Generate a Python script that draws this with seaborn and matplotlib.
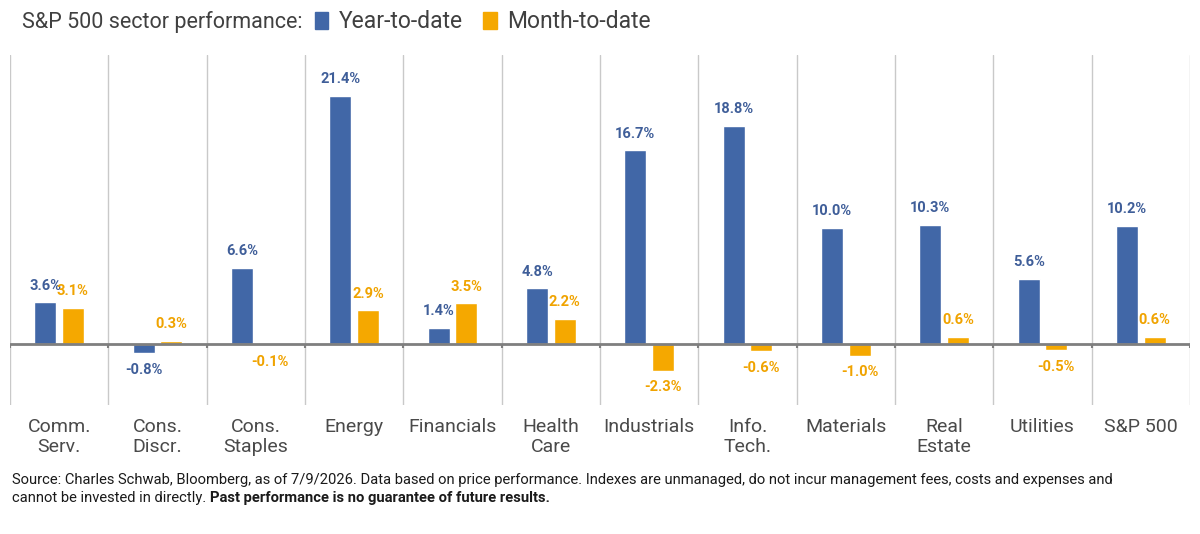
import matplotlib
matplotlib.use('Agg')
import matplotlib.pyplot as plt
import matplotlib.patches as mpatches
import seaborn as sns
import pandas as pd
import numpy as np

# Chart data
sectors = ['Comm.\nServ.', 'Cons.\nDiscr.', 'Cons.\nStaples', 'Energy', 'Financials',
           'Health\nCare', 'Industrials', 'Info.\nTech.', 'Materials', 'Real\nEstate',
           'Utilities', 'S&P 500']
ytd = [3.6, -0.8, 6.6, 21.4, 1.4, 4.8, 16.7, 18.8, 10.0, 10.3, 5.6, 10.2]
mtd = [3.1, 0.3, -0.1, 2.9, 3.5, 2.2, -2.3, -0.6, -1.0, 0.6, -0.5, 0.6]
series_names = ['Year-to-date', 'Month-to-date']

blue = '#4167A7'
orange = '#F5A800'
blue_txt = '#3F5E99'
orange_txt = '#F0A300'

df = pd.DataFrame({
    'sector': sectors * 2,
    'value': ytd + mtd,
    'series': [series_names[0]] * len(sectors) + [series_names[1]] * len(sectors),
})

sns.set_theme(style='white')
plt.rcParams['font.family'] = ['Roboto', 'DejaVu Sans']

fig = plt.figure(figsize=(12, 5.34), dpi=100)
ax = fig.add_axes([10 / 1200, 1 - 405 / 534, 1180 / 1200, 350 / 534])

sns.barplot(data=df, x='sector', y='value', hue='series', order=sectors,
            hue_order=series_names, palette={series_names[0]: blue, series_names[1]: orange},
            width=0.56, gap=0.2, legend=False, ax=ax, saturation=1)

ax.set_xlim(-0.5, len(sectors) - 0.5)
ax.set_ylim(-5.26, 24.94)
for s in ax.spines.values():
    s.set_visible(False)

# category separators
bounds = np.arange(-0.5, len(sectors))
ax.set_xticks(bounds, minor=True)
ax.grid(which='minor', axis='x', color='#c9c9c9', lw=1)
ax.grid(which='major', axis='both', visible=False)
ax.axhline(0, color='#7f7f7f', lw=2, zorder=3)
ax.vlines(bounds, -0.35, 0, color='#7f7f7f', lw=1.5, zorder=3)

ax.set_yticks([])
ax.set_xlabel('')
ax.set_ylabel('')
ax.tick_params(axis='x', which='both', length=0, pad=9.5, labelsize=14, labelcolor='#4a4a4a')
for lbl in ax.get_xticklabels():
    lbl.set_linespacing(1.15)

for cont, col, vals in zip(ax.containers, [blue_txt, orange_txt], [ytd, mtd]):
    ax.bar_label(cont, labels=[f'{v:.1f}%' for v in vals], padding=7,
                 color=col, fontsize=10.5, fontweight='bold')

# title with inline legend
title = fig.text(22 / 1200, 1 - 22 / 534, 'S&P 500 sector performance:', fontsize=15.5,
                 color='#404040', va='center', ha='left')
fig.canvas.draw()
r = fig.canvas.get_renderer()
tb = title.get_window_extent(r)
handles = [mpatches.Patch(color=blue, label=series_names[0]),
           mpatches.Patch(color=orange, label=series_names[1])]
leg = fig.legend(handles=handles, loc='center left', ncol=2, frameon=False,
                 bbox_to_anchor=((tb.x1 + 12) / 1200, 1 - 22 / 534), fontsize=16.5,
                 handlelength=0.6, handleheight=0.7, handletextpad=0.45, columnspacing=0.9,
                 borderpad=0, borderaxespad=0)
for t in leg.get_texts():
    t.set_color('#404040')

# footer
fig.text(12 / 1200, 1 - 480 / 534,
         'Source: Charles Schwab, Bloomberg, as of 7/9/2026. Data based on price performance. '
         'Indexes are unmanaged, do not incur management fees, costs and expenses and',
         fontsize=10.65, color='#1a1a1a', va='center', ha='left')
f2 = fig.text(12 / 1200, 1 - 498 / 534, 'cannot be invested in directly. ',
              fontsize=10.65, color='#1a1a1a', va='center', ha='left')
fig.canvas.draw()
fb = f2.get_window_extent(fig.canvas.get_renderer())
fig.text(fb.x1 / 1200, 1 - 498 / 534, 'Past performance is no guarantee of future results.',
         fontsize=10.65, color='#1a1a1a', va='center', ha='left', fontweight='bold')

fig.savefig('out.png', dpi=100, facecolor='white')
